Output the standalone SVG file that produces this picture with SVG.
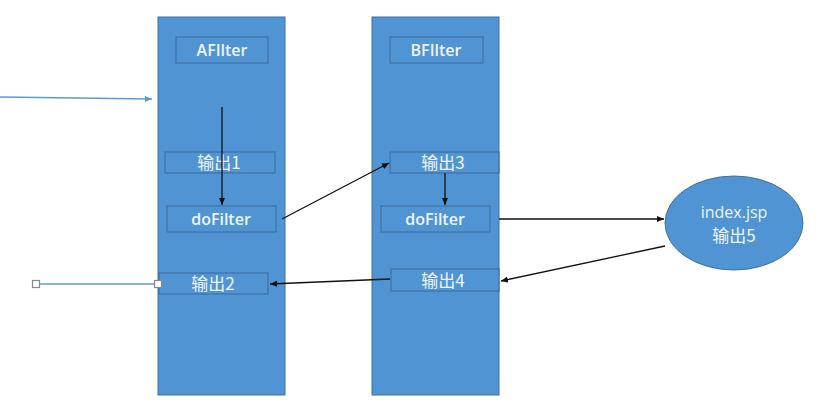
<svg xmlns="http://www.w3.org/2000/svg" width="827" height="406" viewBox="0 0 827 406">
<defs>
<style>
.col{fill:#5094d3;stroke:#41719c;stroke-width:1}
.box{fill:#5094d3;stroke:#3b6a9a;stroke-width:1}
.t{font-family:"Open Sans","Noto Sans CJK SC",sans-serif;font-size:16px;font-weight:600;fill:#eef4fb;text-anchor:middle}
.c{font-family:"Noto Sans CJK SC",sans-serif;font-size:17px;font-weight:400;fill:#eef4fb;text-anchor:middle}
.k{stroke:#111;stroke-width:1.3;fill:none}
.bl{stroke:#5b9bd5;stroke-width:1.3;fill:none}
.h{fill:#fff;stroke:#888;stroke-width:1.2}
</style>
<marker id="ak" markerWidth="8" markerHeight="8" refX="7" refY="4" orient="auto" markerUnits="userSpaceOnUse"><path d="M0,1 L7,4 L0,7 z" fill="#111"/></marker>
<marker id="ab" markerWidth="8" markerHeight="8" refX="7" refY="4" orient="auto" markerUnits="userSpaceOnUse"><path d="M0,1 L7,4 L0,7 z" fill="#5b9bd5"/></marker>
</defs>
<rect width="827" height="406" fill="#fff"/>
<g id="AFilterCol">
<rect class="col" x="158" y="17" width="127" height="378"/>
</g>
<g id="BFilterCol">
<rect class="col" x="372" y="17" width="127" height="378"/>
</g>
<g id="AFilter"><rect class="box" x="176" y="37" width="92" height="26"/><text class="t" x="222" y="56">AFIlter</text></g>
<g id="out1"><rect class="box" x="165" y="152" width="110" height="21"/><text class="c" x="219" y="169">输出1</text></g>
<g id="doFilterA"><rect class="box" x="167" y="206" width="109" height="26"/><text class="t" x="221" y="225">doFilter</text></g>
<g id="out2"><rect class="box" x="159" y="273" width="109" height="21"/><text class="c" x="213" y="290">输出2</text></g>
<g id="BFilter"><rect class="box" x="390" y="37" width="93" height="26"/><text class="t" x="436" y="56">BFIlter</text></g>
<g id="out3"><rect class="box" x="390" y="152" width="109" height="21"/><text class="c" x="443" y="169">输出3</text></g>
<g id="doFilterB"><rect class="box" x="381" y="206" width="109" height="26"/><text class="t" x="435" y="225">doFilter</text></g>
<g id="out4"><rect class="box" x="391" y="269" width="108" height="22"/><text class="c" x="443" y="287">输出4</text></g>
<g id="index"><ellipse cx="734" cy="223" rx="69" ry="47" fill="#5094d3" stroke="#41719c"/><text class="t" x="734" y="218" style="font-weight:400">index.jsp</text><text class="c" x="734" y="242">输出5</text></g>
<g id="connectors">
<line class="bl" x1="0" y1="97" x2="152" y2="99" marker-end="url(#ab)"/>
<line class="k" x1="222" y1="107" x2="222" y2="205" marker-end="url(#ak)"/>
<line class="k" x1="282" y1="219" x2="389" y2="163" marker-end="url(#ak)"/>
<line class="k" x1="445" y1="173" x2="445" y2="205" marker-end="url(#ak)"/>
<line class="k" x1="499" y1="219" x2="664" y2="219" marker-end="url(#ak)"/>
<line class="k" x1="665" y1="246" x2="501" y2="281" marker-end="url(#ak)"/>
<line class="k" x1="390" y1="279" x2="270" y2="284" marker-end="url(#ak)"/>
<line class="bl" x1="36" y1="284" x2="158" y2="284"/>
<rect class="h" x="32.5" y="280.5" width="7" height="7"/>
<rect class="h" x="154.5" y="280.5" width="7" height="7"/>
</g>
</svg>
